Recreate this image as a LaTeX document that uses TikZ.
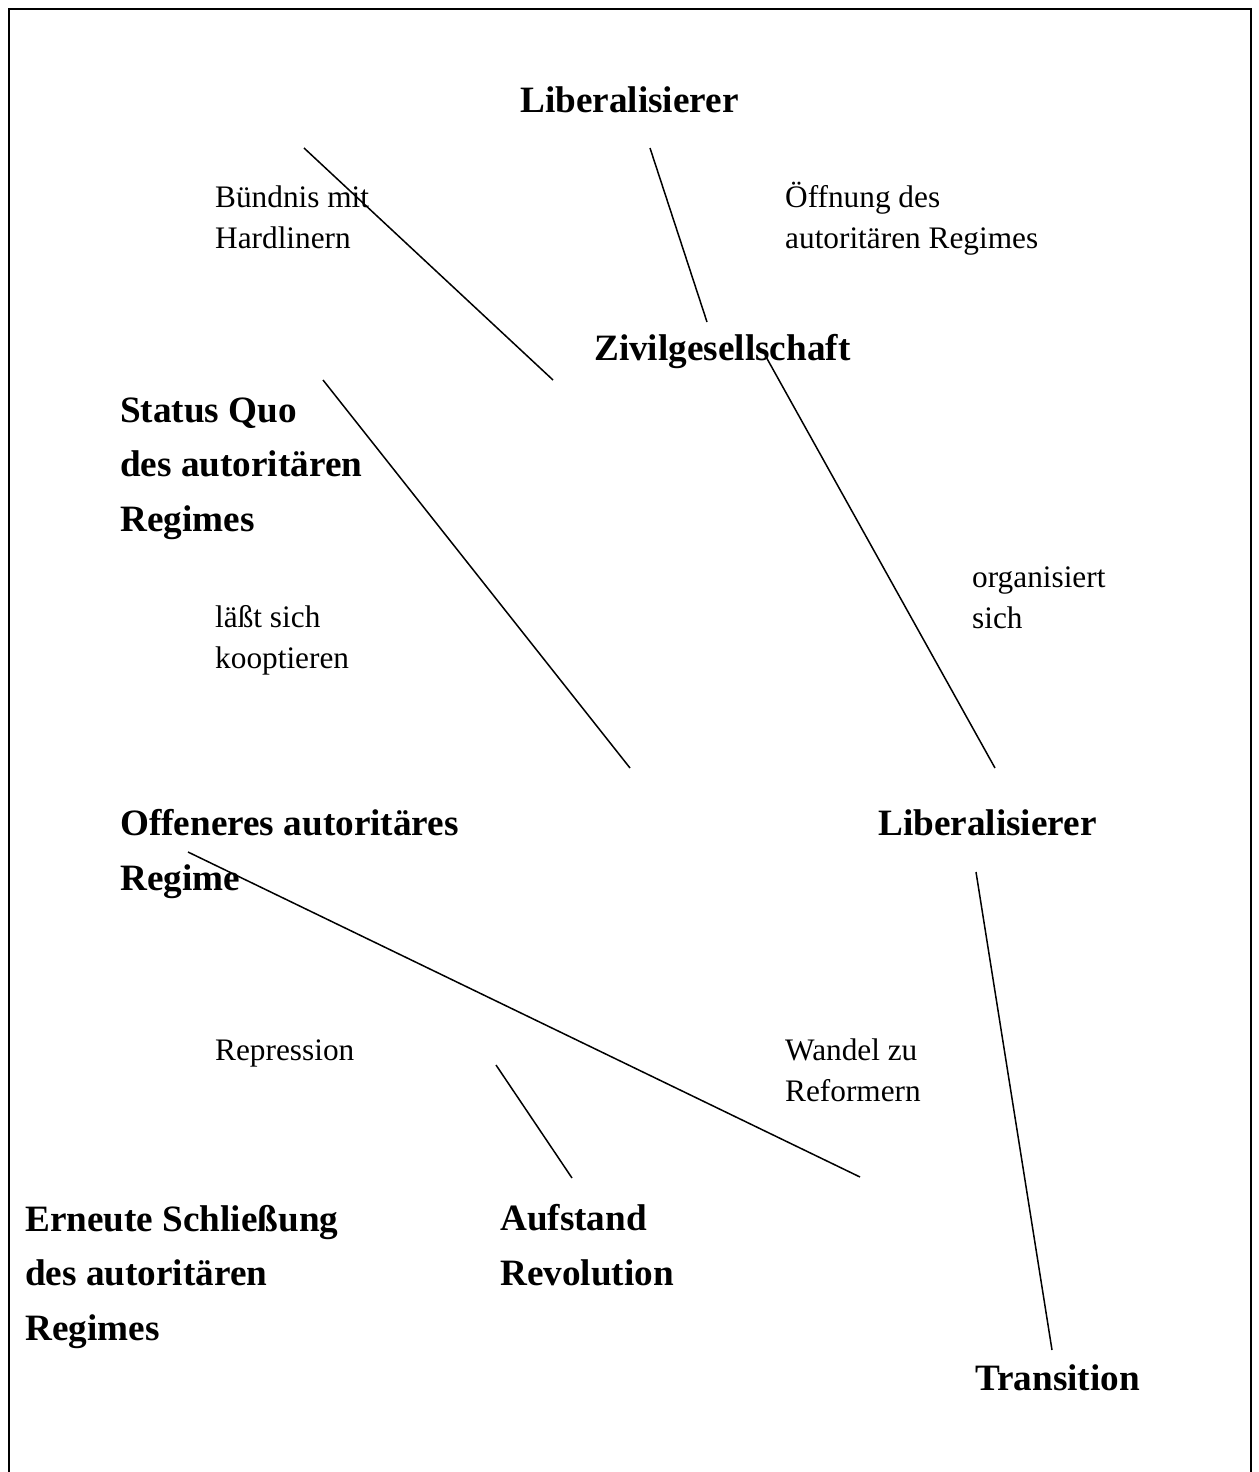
\documentclass[tikz,border=0pt]{standalone}
\usepackage{fontspec}
\setmainfont{Liberation Serif}
\begin{document}
\begin{tikzpicture}[x=1pt,y=-1pt,
  lab/.style={anchor=base west,inner sep=0pt,align=left,font=\fontsize{31.3}{40.5}\selectfont},
  hd/.style={anchor=base west,inner sep=0pt,align=left,font=\fontsize{37.2}{54.5}\selectfont\bfseries},
  conn/.style={line width=1.5pt},
  frame/.style={line width=2.8pt}]
\useasboundingbox (0,0) rectangle (1258,1472);
\draw[frame] (9,1480) -- (9,9) -- (1251,9) -- (1251,1480);
% headings (anchored at the baseline of the last line)
\node[hd] (lib1) at (520,112) {Liberalisierer};
\node[hd] (zivil) at (594,360) {Zivilgesellschaft};
\node[hd] (status) at (120,531) {Status Quo\\des autoritären\\Regimes};
\node[hd] (offen) at (120,890) {Offeneres autoritäres\\Regime};
\node[hd] (lib2) at (878,835) {Liberalisierer};
\node[hd] (erneut) at (25,1340) {Erneute Schließung\\des autoritären\\Regimes};
\node[hd] (aufst) at (500,1285) {Aufstand\\Revolution};
\node[hd] (trans) at (975,1390) {Transition};
% labels
\node[lab] (buend) at (215,248) {Bündnis mit\\Hardlinern};
\node[lab] (oeff) at (785,248) {Öffnung des\\autoritären Regimes};
\node[lab] (org) at (972,628) {organisiert\\sich};
\node[lab] (koopt) at (215,668) {läßt sich\\kooptieren};
\node[lab] (repr) at (215,1060) {Repression};
\node[lab] (wandel) at (785,1101) {Wandel zu\\Reformern};
% connector ends
\coordinate (a1) at (304,148); \coordinate (a2) at (553,380);
\coordinate (b1) at (650,148); \coordinate (b2) at (707,322);
\coordinate (c1) at (323,380); \coordinate (c2) at (630,768);
\coordinate (d1) at (765,355); \coordinate (d2) at (995,768);
\coordinate (e1) at (188,852); \coordinate (e2) at (860,1177);
\coordinate (f1) at (976,872); \coordinate (f2) at (1052,1350);
\coordinate (g1) at (496,1065); \coordinate (g2) at (572,1178);
\draw[conn] (a1) -- (a2);
\draw[conn] (b1) -- (b2);
\draw[conn] (c1) -- (c2);
\draw[conn] (d1) -- (d2);
\draw[conn] (e1) -- (e2);
\draw[conn] (f1) -- (f2);
\draw[conn] (g1) -- (g2);
\end{tikzpicture}
\end{document}
